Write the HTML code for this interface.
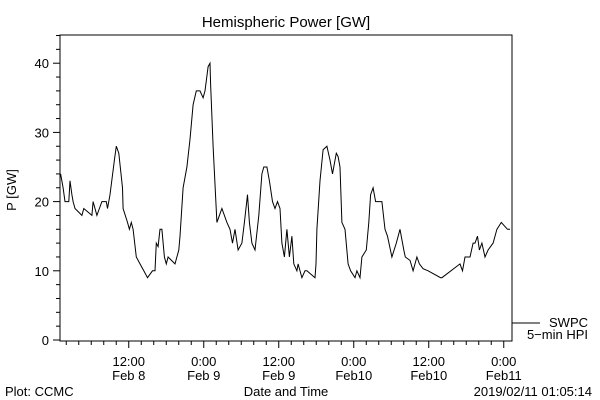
<!DOCTYPE html>
<html><head><meta charset="utf-8"><style>
body{margin:0;background:#fff}
svg{display:block;font-family:"Liberation Sans",sans-serif;font-size:13px}
</style></head><body>
<svg id="c" width="600" height="400">
<text x="286" y="27" text-anchor="middle" font-size="15">Hemispheric Power [GW]</text>
<text transform="translate(16,190) rotate(-90)" text-anchor="middle">P [GW]</text>
<text x="286" y="396" text-anchor="middle">Date and Time</text>
<text x="5" y="396">Plot: CCMC</text>
<text x="592" y="396" text-anchor="end">2019/02/11 01:05:14</text>
<line x1="512" y1="323" x2="540" y2="323" stroke="#000"/>
<text x="588" y="327" text-anchor="end">SWPC</text>
<text x="588" y="339" text-anchor="end">5−min HPI</text>
<rect x="60" y="35" width="452" height="306" fill="none" stroke="#000"/>
<g id="axes"></g>
<path id="series" fill="none" stroke="#000" stroke-width="1"/>
</svg>
<script>
const hours=[0.1,0.5,0.8,1.4,1.6,1.9,2.1,2.4,3.5,3.8,5.1,5.3,5.9,6.3,6.7,7.4,7.6,8.0,8.7,9.0,9.4,10.0,10.1,10.8,11.1,11.4,11.7,12.2,12.8,13.4,14.0,14.8,15.2,15.4,15.7,16.0,16.3,16.7,17.0,17.3,18.4,19.0,19.2,19.7,20.3,20.8,21.3,21.8,22.4,22.9,23.2,23.7,24.0,24.1,24.5,25.1,25.9,26.7,27.2,27.6,28.0,28.5,29.1,29.5,30.0,30.3,30.7,31.2,31.8,32.3,32.6,33.1,33.5,34.0,34.4,34.8,35.2,35.5,35.9,36.3,36.7,37.1,37.4,37.9,38.1,38.7,39.2,39.5,40.8,40.96,41.1,41.6,42.1,42.7,43.2,43.6,44.2,44.5,44.8,45.1,45.6,46.1,46.5,47.2,47.5,48.0,48.3,49.0,49.4,49.7,50.1,50.5,50.8,51.5,52.0,52.4,53.1,53.8,54.4,55.0,55.25,56.0,56.5,57.1,57.5,58.1,58.9,60.9,61.1,64.0,64.4,64.8,65.6,66.1,66.4,66.8,67.1,67.5,68.0,68.5,69.3,69.9,70.6,71.6,72.0,72.3];
const values=[24,22,20,20,23,21,20,19,18,19,18,20,18,19,20,20,19,21,26,28,27,22,19,17,16,17,16,12,11,10,9,10,10,14,13.5,16,16,12,11,12,11,13,15,22,25,29,34,36,36,35,36,39.5,40,37,28,17,19,17,16,14,16,13,14,17,21,17,14,13,18,24,25,25,23,20,19,20,19,14,12,16,12,15,11,10,11,9,10,10,9,11,16,23,27.5,28,26,24,27,26.5,25,17,16,11,10,9,10,9,12,13,17,21,22,20,20,20,16,15,12,14,16,13,12,11.5,10,12,11,10.3,10,9,9,11,10,12,12,14,14,15,13,14,12,13,14,16,17,16,16];
const yTicks=[0,10,20,30,40];
const xTickHours=[11,23,35,47,59,71];
const xTickTime=["12:00","0:00","12:00","0:00","12:00","0:00"];
const xTickDate=["Feb 8","Feb 9","Feb 9","Feb10","Feb10","Feb11"];
const X0=60,X1=512,H0=0,H1=72.32,Y0=340,YPU=6.92;
const xs=h=>X0+(h-H0)/(H1-H0)*(X1-X0);
const ys=v=>Y0-v*YPU;
const ns="http://www.w3.org/2000/svg";
const g=document.getElementById('axes');
function ln(x1,y1,x2,y2){const l=document.createElementNS(ns,'line');l.setAttribute('x1',x1);l.setAttribute('y1',y1);l.setAttribute('x2',x2);l.setAttribute('y2',y2);l.setAttribute('stroke','#000');g.appendChild(l);return l;}
function tx(x,y,s,a){const t=document.createElementNS(ns,'text');t.setAttribute('x',x);t.setAttribute('y',y);t.setAttribute('text-anchor',a);t.textContent=s;g.appendChild(t);return t;}
for(let v=0;v<=44;v+=2){const l=ln(X0,ys(v),X0-(v%10===0?7:4),ys(v));

}
yTicks.forEach(v=>{const t=tx(49,ys(v)+5,String(v),'end');

});
for(let h=1;h<=72;h+=2){const maj=(h-11)%12===0;const l=ln(xs(h),341,xs(h),341+(maj?7:4));

}
xTickHours.forEach((h,i)=>{const a=tx(xs(h),366,xTickTime[i],'middle');


const b=tx(xs(h),380,xTickDate[i],'middle');

});
let d='';hours.forEach((h,i)=>{d+=(i?'L':'M')+xs(h).toFixed(1)+','+ys(values[i]).toFixed(1);});
document.getElementById('series').setAttribute('d',d);
</script>
</body></html>
